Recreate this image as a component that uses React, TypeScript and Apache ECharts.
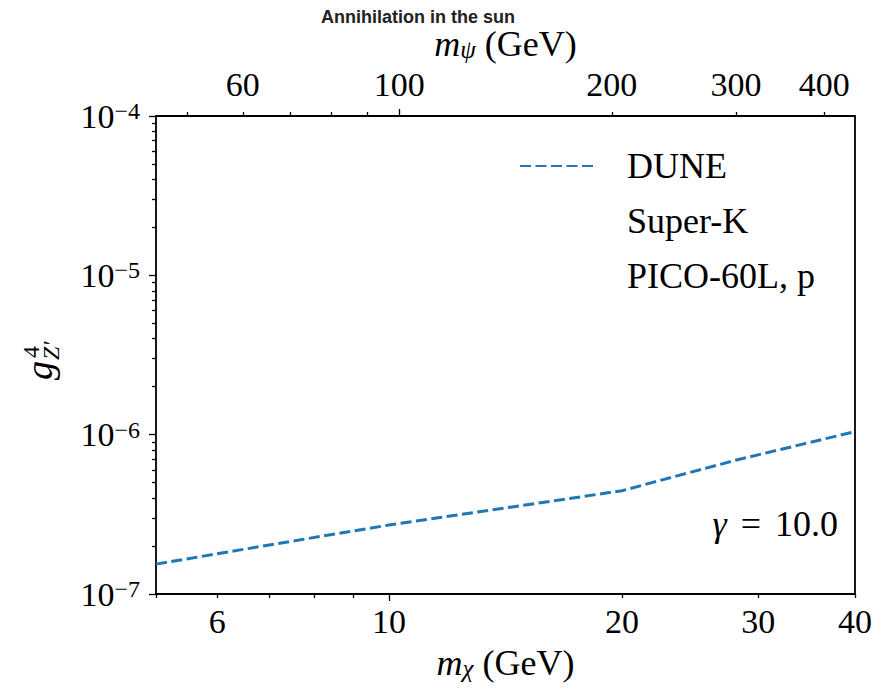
import React, { useEffect, useRef } from "react";
import * as echarts from "echarts";

// ---- data ----
const mChi = [5, 7, 10, 14.5, 20, 28, 40];
const duneG4 = [1.54e-7, 2.03e-7, 2.71e-7, 3.53e-7, 4.45e-7, 6.9e-7, 1.045e-6];
const xRange = [5, 40];
const psiRange = [45.2, 442.3];
const yRange = [1e-7, 1e-4];
const xLabelTicks = [6, 10, 20, 30, 40];
const xMinorTicks = [5, 6, 7, 8, 9, 20, 30, 40];
const xMajorTicks = [10];
const psiLabelTicks = [60, 100, 200, 300, 400];
const psiMinorTicks = [50, 60, 70, 80, 90, 200, 300, 400];
const psiMajorTicks = [100];
const yMajorTicks = [1e-7, 1e-6, 1e-5, 1e-4];
const yMinorTicks = [
  2e-7, 3e-7, 4e-7, 5e-7, 6e-7, 7e-7, 8e-7, 9e-7,
  2e-6, 3e-6, 4e-6, 5e-6, 6e-6, 7e-6, 8e-6, 9e-6,
  2e-5, 3e-5, 4e-5, 5e-5, 6e-5, 7e-5, 8e-5, 9e-5,
];
const legendNames = ["DUNE", "Super-K", "PICO-60L, p"];
const titleText = "Annihilation in the sun";
const gammaText = "10.0";

const SERIF = '"Liberation Serif", "Times New Roman", serif';
const BLUE = "#1f77b4";
const TICK_FS = 34;

export default function App() {
  const ref = useRef<HTMLDivElement>(null);
  useEffect(() => {
    if (!ref.current) return;
    const chart = echarts.init(ref.current, undefined, { renderer: "svg" });
    const tickStyle = { color: "#000", width: 1.3 };
    const hidden = { show: false };
    const plainLabel = {
      fontFamily: SERIF,
      fontSize: TICK_FS,
      color: "#000",
      formatter: (v: number) => String(Math.round(v)),
    };
    const nameRich = {
      m: { fontFamily: SERIF, fontStyle: "italic", fontSize: 36, color: "#000" },
      s: { fontFamily: SERIF, fontStyle: "italic", fontSize: 25, color: "#000", verticalAlign: "bottom", lineHeight: 22 },
      t: { fontFamily: SERIF, fontSize: 36, color: "#000" },
    };
    const option: any = {
      animation: false,
      title: {
        text: titleText,
        left: 413,
        top: 3,
        textAlign: "center",
        textStyle: { fontFamily: '"Liberation Sans", Arial, sans-serif', fontWeight: "bold", fontSize: 18, color: "#222" },
      },
      grid: {
        left: 156,
        right: 30,
        top: 116,
        bottom: 95,
        show: true,
        borderColor: "#000",
        borderWidth: 1.8,
        backgroundColor: "transparent",
      },
      legend: {
        orient: "vertical",
        left: 514,
        top: 143,
        itemWidth: 76,
        itemHeight: 14,
        itemGap: 19,
        textStyle: {
          fontFamily: SERIF,
          fontSize: 36,
          color: "#000",
          lineHeight: 36,
          rich: { pad: { width: 26, fontSize: 36, fontFamily: SERIF }, t: { fontFamily: SERIF, fontSize: 36, color: "#000" } },
        },
        formatter: (n: string) => `{pad| }{t|${n}}`,
        data: [
          { name: legendNames[0], itemStyle: { opacity: 0 } },
          { name: legendNames[1], itemStyle: { opacity: 0 }, lineStyle: { opacity: 0 } },
          { name: legendNames[2], itemStyle: { opacity: 0 }, lineStyle: { opacity: 0 } },
        ],
      },
      xAxis: [
        {
          type: "log",
          position: "bottom",
          min: xRange[0],
          max: xRange[1],
          axisLine: hidden,
          splitLine: hidden,
          axisTick: { show: true, length: 4, lineStyle: tickStyle, customValues: xMinorTicks },
          axisLabel: { ...plainLabel, margin: 10, customValues: xLabelTicks },
          name: "{m|m}{s|χ}{t| (GeV)}",
          nameLocation: "middle",
          nameGap: 51,
          nameTextStyle: { rich: nameRich },
        },
        {
          type: "log",
          position: "bottom",
          min: xRange[0],
          max: xRange[1],
          axisLine: hidden,
          splitLine: hidden,
          axisTick: { show: true, length: 7, lineStyle: tickStyle, customValues: xMajorTicks },
          axisLabel: hidden,
        },
        {
          type: "log",
          position: "top",
          min: psiRange[0],
          max: psiRange[1],
          axisLine: hidden,
          splitLine: hidden,
          axisTick: { show: true, length: 4, lineStyle: tickStyle, customValues: psiMinorTicks },
          axisLabel: { ...plainLabel, margin: 15, customValues: psiLabelTicks },
          name: "{m|m}{s|ψ}{t| (GeV)}",
          nameLocation: "middle",
          nameGap: 53,
          nameTextStyle: { rich: nameRich },
        },
        {
          type: "log",
          position: "top",
          min: psiRange[0],
          max: psiRange[1],
          axisLine: hidden,
          splitLine: hidden,
          axisTick: { show: true, length: 7, lineStyle: tickStyle, customValues: psiMajorTicks },
          axisLabel: hidden,
        },
      ],
      yAxis: [
        {
          type: "log",
          position: "left",
          min: yRange[0],
          max: yRange[1],
          axisLine: hidden,
          splitLine: hidden,
          axisTick: { show: true, length: 7, lineStyle: tickStyle, customValues: yMajorTicks },
          axisLabel: {
            margin: 16,
            customValues: yMajorTicks,
            formatter: (v: number) => `{b|10}{s|−${-Math.round(Math.log10(v))}}`,
            rich: {
              b: { fontFamily: SERIF, fontSize: TICK_FS, color: "#000", lineHeight: 34 },
              s: { fontFamily: SERIF, fontSize: 24, color: "#000", verticalAlign: "top", lineHeight: 18 },
            },
          },
        },
        {
          type: "log",
          position: "left",
          min: yRange[0],
          max: yRange[1],
          axisLine: hidden,
          splitLine: hidden,
          axisTick: { show: true, length: 4, lineStyle: tickStyle, customValues: yMinorTicks },
          axisLabel: hidden,
        },
      ],
      series: [
        {
          name: legendNames[0],
          type: "line",
          xAxisIndex: 0,
          yAxisIndex: 0,
          symbol: "none",
          data: mChi.map((x, i) => [x, duneG4[i]]),
          lineStyle: { color: BLUE, width: 3, type: [11, 4.5] },
          itemStyle: { color: BLUE },
        },
        {
          name: legendNames[1],
          type: "line",
          xAxisIndex: 0,
          yAxisIndex: 0,
          symbol: "none",
          data: [],
          lineStyle: { opacity: 0 },
          itemStyle: { opacity: 0 },
        },
        {
          name: legendNames[2],
          type: "line",
          xAxisIndex: 0,
          yAxisIndex: 0,
          symbol: "none",
          data: [],
          lineStyle: { opacity: 0 },
          itemStyle: { opacity: 0 },
        },
      ],
      graphic: [
        {
          type: "group",
          x: 43,
          y: 361,
          rotation: Math.PI / 2,
          children: [
            { type: "text", x: -19, y: -4, style: { text: "g", fontFamily: SERIF, fontStyle: "italic", fontSize: 38, fill: "#000", verticalAlign: "middle", align: "left" } },
            { type: "text", x: 3, y: -12, style: { text: "4", fontFamily: SERIF, fontSize: 24, fill: "#000", verticalAlign: "middle", align: "left" } },
            { type: "text", x: 1, y: 8, style: { text: "Z′", fontFamily: SERIF, fontStyle: "italic", fontSize: 24, fill: "#000", verticalAlign: "middle", align: "left" } },
          ],
        },
        {
          type: "text",
          x: 838,
          y: 524,
          style: {
            text: `{i|γ}{e|=}{t|${gammaText}}`,
            align: "right",
            verticalAlign: "middle",
            rich: {
              i: { fontFamily: SERIF, fontStyle: "italic", fontSize: 36, fill: "#000" },
              e: { fontFamily: SERIF, fontSize: 36, fill: "#000", padding: [0, 14, 0, 14] },
              t: { fontFamily: SERIF, fontSize: 36, fill: "#000" },
            },
          },
        },
      ],
    };
    chart.setOption(option);
    return () => chart.dispose();
  }, []);
  return (
    <div
      ref={ref}
      style={{ position: "fixed", left: 0, top: 0, width: 885, height: 689, background: "#fff" }}
    />
  );
}
